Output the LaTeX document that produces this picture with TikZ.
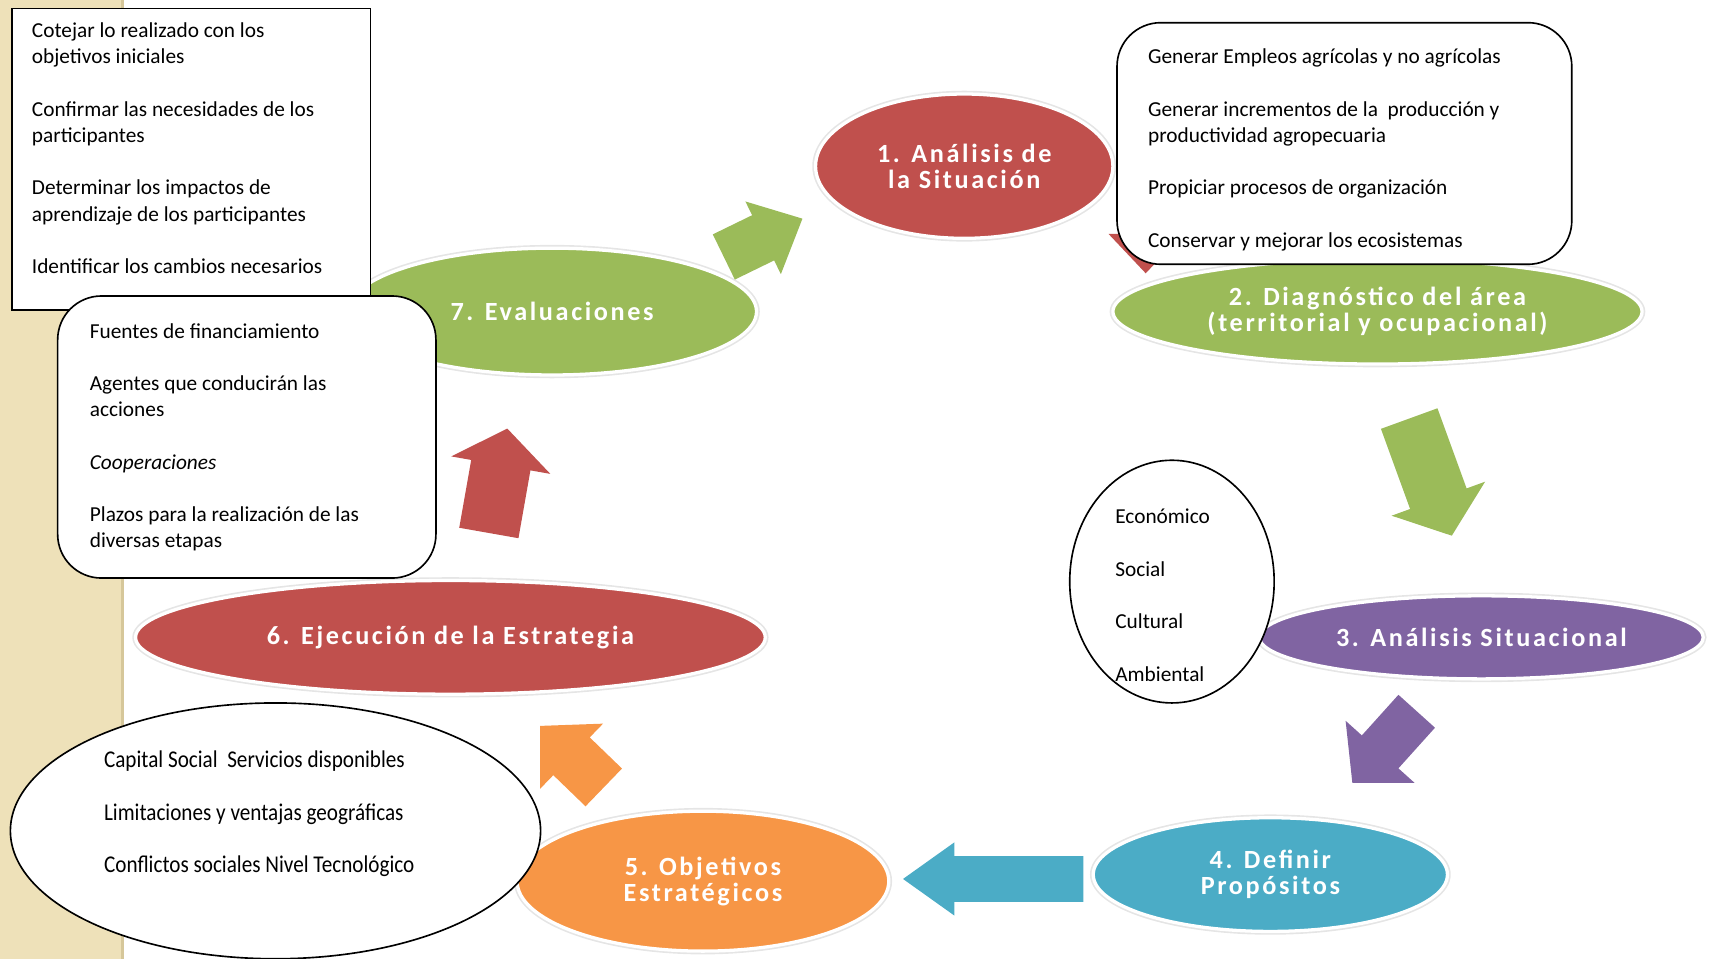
\documentclass[tikz,border=0pt]{standalone}
\usepackage{fontspec}
\setmainfont{Carlito}
\newfontfamily\titlefont[LetterSpace=10]{Carlito}
\newfontfamily\narrowfont[FakeStretch=0.88]{Carlito}
\usetikzlibrary{shapes.geometric}
\definecolor{cRed}{HTML}{C0504D}
\definecolor{cGreen}{HTML}{9BBB59}
\definecolor{cPurple}{HTML}{8064A2}
\definecolor{cTeal}{HTML}{4BACC6}
\definecolor{cOrange}{HTML}{F79646}
\definecolor{cBeige}{HTML}{EEE1B9}
\definecolor{cBeigeEdge}{HTML}{D6C79A}
\newcommand\blockarrow[7]{% tip, angle, length, shaft, head width, head length, colour
  \begin{scope}[shift={#1}, rotate=#2]
    \fill[#7] (0,0) -- (-#6,#5/2) -- (-#6,#4/2) -- (-#3,#4/2) -- (-#3,-#4/2)
      -- (-#6,-#4/2) -- (-#6,-#5/2) -- cycle;
  \end{scope}}
\tikzset{
  stage/.style={ellipse, inner sep=0pt, fill=#1, draw=white, line width=3pt,
    preaction={draw=black!10, line width=6pt}, text=white, align=center,
    font=\titlefont\bfseries\fontsize{24}{24}\selectfont},
  infotext/.style={anchor=north west, inner sep=0pt, align=left,
    font=\fontsize{19.5}{24}\selectfont},
  infobox/.style={draw=black, line width=1.5pt, fill=white, anchor=north west,
    inner sep=0pt},
  infoval/.style={draw=black, line width=1.5pt, fill=white, ellipse, inner sep=0pt},
}
\begin{document}
\begin{tikzpicture}[x=1pt,y=-1pt]
\useasboundingbox (0,0) rectangle (1566,877);
% left decorative strip
\fill[cBeige] (0,0) rectangle (112,877);
\draw[cBeigeEdge, line width=2pt] (112,0) -- (112,877);
% stages
\node[stage=cRed, minimum width=272pt, minimum height=132pt] (s1) at (882,152) {1. Análisis de\\la Situación};
\node[stage=cGreen, minimum width=484pt, minimum height=96pt] (s2) at (1260,285) {2. Diagnóstico del área\\(territorial y ocupacional)};
\node[stage=cPurple, minimum width=406pt, minimum height=76pt] (s3) at (1355,583) {3. Análisis Situacional};
\node[stage=cTeal, minimum width=324pt, minimum height=104pt] (s4) at (1162,800) {4. Definir\\Propósitos};
\node[stage=cOrange, minimum width=340pt, minimum height=128pt] (s5) at (643,806) {5. Objetivos\\Estratégicos};
\node[stage=cRed, minimum width=576pt, minimum height=104pt] (s6) at (412,583) {6. Ejecución de la Estrategia};
\node[stage=cGreen, minimum width=374pt, minimum height=116pt] (s7) at (505,285) {7. Evaluaciones};
% block arrows (tips as named coordinates)
\coordinate (t71) at (734,200);
\coordinate (t12) at (1048,250);
\coordinate (t23) at (1328,490);
\coordinate (t34) at (1237,716);
\coordinate (t45) at (826,804);
\coordinate (t56) at (494,664);
\coordinate (t67) at (464,392);
\blockarrow{(t71)}{26}{80}{46}{74}{40}{cGreen}
\blockarrow{(t12)}{-90}{95}{44}{68}{36}{cRed}
\blockarrow{(t23)}{-70}{114}{55}{91}{36}{cGreen}
\blockarrow{(t34)}{-132}{88}{45}{85}{38}{cPurple}
\blockarrow{(t45)}{180}{165}{42}{67}{47}{cTeal}
\blockarrow{(t56)}{136}{81}{48}{83}{40}{cOrange}
\blockarrow{(t67)}{80}{97}{55}{92}{34}{cRed}
% information boxes
\node[infobox, minimum width=328pt, minimum height=276pt] (boxA) at (10,7) {};
\node[infobox, rounded corners=40pt, minimum width=346pt, minimum height=258pt] (boxB) at (52,270) {};
\node[infobox, rounded corners=40pt, minimum width=416pt, minimum height=221pt] (boxC) at (1021,20) {};
\node[infoval, minimum width=187pt, minimum height=222pt] (ovD) at (1072,532) {};
\node[infoval, minimum width=485pt, minimum height=234pt] (ovE) at (252,760) {};
% texts
\node[infotext] (tA) at (29,17.2) {\strut Cotejar lo realizado con los\\objetivos iniciales\\[24pt]Confirmar las necesidades de los\\participantes\\[24pt]Determinar los impactos de\\aprendizaje de los participantes\\[24pt]Identificar los cambios necesarios};
\node[infotext] (tB) at (82,292.2) {\strut Fuentes de financiamiento\\[24pt]Agentes que conducirán las\\acciones\\[24pt]\textit{Cooperaciones}\\[24pt]Plazos para la realización de las\\diversas etapas};
\node[infotext] (tC) at (1050,41.2) {\strut Generar Empleos agrícolas y no agrícolas\\[24pt]Generar incrementos de la\ \ producción y\\productividad agropecuaria\\[24pt]Propiciar procesos de organización\\[24pt]Conservar y mejorar los ecosistemas};
\node[infotext] (tD) at (1020,462.2) {\strut Económico\\[24pt]Social\\[24pt]Cultural\\[24pt]Ambiental};
\node[infotext, font=\narrowfont\fontsize{22}{24}\selectfont] (tE) at (95,685.2) {\strut Capital Social\ \ Servicios disponibles\\[24pt]Limitaciones y ventajas geográficas\\[24pt]Conflictos sociales Nivel Tecnológico};
\end{tikzpicture}
\end{document}
